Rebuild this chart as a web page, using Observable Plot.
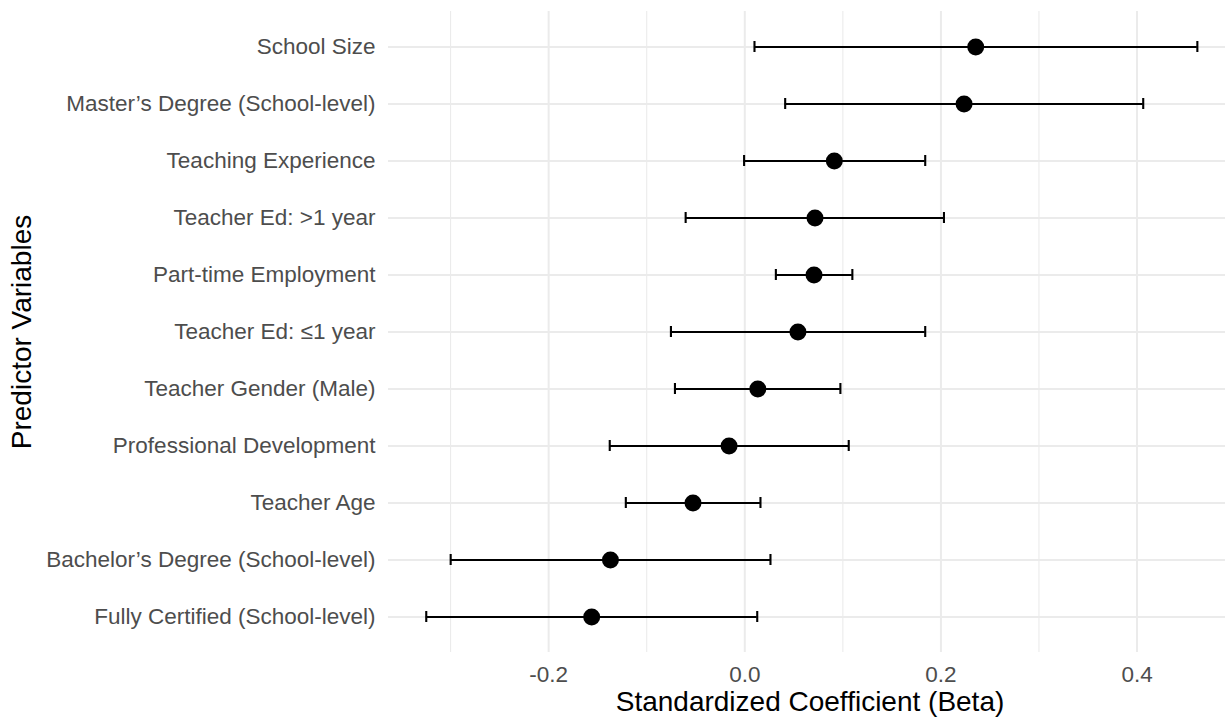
<!DOCTYPE html>
<html>
<head>
<meta charset="utf-8">
<script src="https://cdn.jsdelivr.net/npm/d3@7"></script>
<script src="https://cdn.jsdelivr.net/npm/@observablehq/plot@0.6"></script>
<style>
  html, body { margin: 0; padding: 0; background: #ffffff; }
  #chart svg { display: block; }
</style>
</head>
<body>
<div id="chart"></div>
<script>
// Predictor names, top to bottom
const predictors = [
  "School Size",
  "Master\u2019s Degree (School-level)",
  "Teaching Experience",
  "Teacher Ed: >1 year",
  "Part-time Employment",
  "Teacher Ed: \u22641 year",
  "Teacher Gender (Male)",
  "Professional Development",
  "Teacher Age",
  "Bachelor\u2019s Degree (School-level)",
  "Fully Certified (School-level)"
];
// Standardized coefficients (beta)
const betas = [0.2355, 0.2236, 0.0913, 0.0716, 0.0706, 0.0542, 0.0133, -0.0160, -0.0528, -0.1370, -0.1561];
// Confidence interval bounds
const ciLow  = [0.0099, 0.0412, -0.0007, -0.0603, 0.0317, -0.0753, -0.0712, -0.1377, -0.1213, -0.2999, -0.3248];
const ciHigh = [0.4615, 0.4063, 0.1840, 0.2031, 0.1097, 0.1840, 0.0975, 0.1060, 0.0160, 0.0262, 0.0127];
// Axis ticks
const majorTicks = [-0.2, 0.0, 0.2, 0.4];
const minorTicks = [-0.3, -0.1, 0.1, 0.3];
const xTitle = "Standardized Coefficient (Beta)";
const yTitle = "Predictor Variables";

const rows = predictors.map((label, i) => ({label, beta: betas[i], lo: ciLow[i], hi: ciHigh[i]}));

const grid = "#EBEBEB";
const chart = Plot.plot({
  width: 1228,
  height: 717,
  marginLeft: 388,
  marginRight: 3,
  marginTop: 11,
  marginBottom: 65,
  style: {fontFamily: "'Liberation Sans', Arial, sans-serif", fontSize: "22.5px", background: "#ffffff", color: "#4D4D4D"},
  x: {domain: [-0.3633, 0.4902]},
  y: {type: "band", domain: predictors, paddingInner: 0.8, paddingOuter: 0.5},
  marks: [
    Plot.ruleX(minorTicks, {stroke: grid, strokeWidth: 1.1}),
    Plot.ruleX(majorTicks, {stroke: grid, strokeWidth: 2}),
    Plot.ruleY(predictors, {y: d => d, stroke: grid, strokeWidth: 2}),
    Plot.axisX({ticks: majorTicks, tickSize: 0, tickPadding: 14, tickFormat: d => d.toFixed(1), label: null, fontSize: 22.5}),
    Plot.axisY({tickSize: 0, tickPadding: 13, label: null, fontSize: 22.5}),
    Plot.ruleY(rows, {y: "label", x1: "lo", x2: "hi", stroke: "#000000", strokeWidth: 2.1}),
    Plot.tickX(rows, {x: "lo", y: "label", stroke: "#000000", strokeWidth: 2.1}),
    Plot.tickX(rows, {x: "hi", y: "label", stroke: "#000000", strokeWidth: 2.1}),
    Plot.dot(rows, {x: "beta", y: "label", r: 8.5, fill: "#000000", stroke: "none"}),
    Plot.text([xTitle], {frameAnchor: "bottom", textAnchor: "middle", lineAnchor: "middle", dy: 50, dx: 3, fontSize: 28, fill: "#000000"}),
    Plot.text([yTitle], {frameAnchor: "left", textAnchor: "middle", lineAnchor: "middle", dx: -366, rotate: -90, fontSize: 28, fill: "#000000"})
  ]
});
document.getElementById("chart").appendChild(chart);
</script>
</body>
</html>
